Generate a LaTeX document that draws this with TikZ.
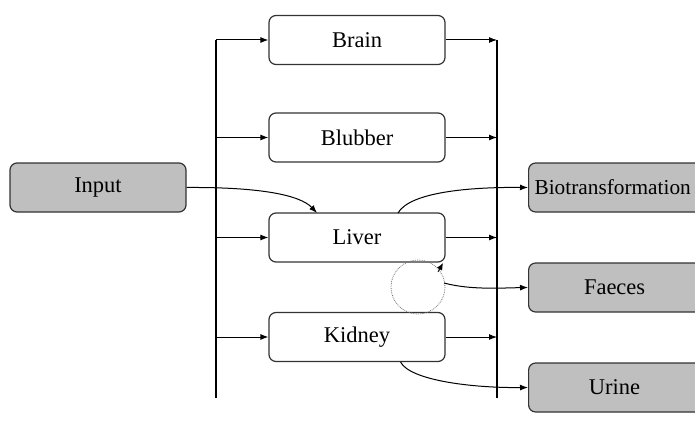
\documentclass[tikz,border=0pt]{standalone}
\usepackage{fontspec}
\setmainfont{Liberation Serif}
\usetikzlibrary{arrows.meta}
\begin{document}
\begin{tikzpicture}[x=1pt,y=-1pt,
  box/.style={draw=black!80,line width=1.2pt,rounded corners=7pt,minimum width=176pt,minimum height=49pt,inner sep=0pt,font=\fontsize{22.5}{26}\selectfont},
  sbox/.style={box,fill=black!25},
  arr/.style={-{Latex[length=8pt,width=6pt]},line width=1pt},
  bus/.style={line width=1.2pt}]
\useasboundingbox (0,0) rectangle (695,425);
\clip (0,0) rectangle (695,425);
\node[box] (brain) at (357,40) {Brain};
\node[box] (blubber) at (357,137.5) {Blubber};
\node[box] (liver) at (357,237.5) {Liver};
\node[box] (kidney) at (357,337) {Kidney};
\node[sbox] (input) at (98,187.5) {Input};
\node[sbox,minimum width=180pt,anchor=west,text width=172pt,align=left,inner sep=4pt,font=\fontsize{21.3}{26}\selectfont] (bio) at (528,187.5) {\hspace*{2pt}Biotransformation};
\node[sbox,minimum width=180pt,anchor=west] (faeces) at (528,287.5) {\hspace*{-8pt}Faeces};
\node[sbox,minimum width=180pt,anchor=west] (urine) at (528,387.5) {\hspace*{-8pt}Urine};
\coordinate (lt) at (216,40);
\coordinate (lb) at (216,398);
\coordinate (rt) at (497,40);
\coordinate (rb) at (497,398);
\draw[bus] (lb) -- (lt);
\draw[bus] (rt) -- (rb);
\draw[arr] (lt) -- (brain.west);
\draw[arr] (216,137.5) -- (blubber.west);
\draw[arr] (216,237.5) -- (liver.west);
\draw[arr] (216,337) -- (kidney.west);
\draw[arr] (brain.east) -- (rt);
\draw[arr] (blubber.east) -- (497,137.5);
\draw[arr] (liver.east) -- (497,237.5);
\draw[arr] (kidney.east) -- (497,337);
\draw[arr] (input.east) .. controls (260,187) and (300,195) .. (317,213);
\draw[arr] (398,213) .. controls (410,192) and (470,187) .. (bio.west);
\draw[arr] (kidney.south east) ++(-45,0) coordinate (ks) .. controls (410,380) and (470,388) .. (urine.west);
\draw[black!55,densely dotted,line width=0.8pt] (418,287) circle (27);
\draw[-{Latex[length=7pt,width=6pt]},line width=0.8pt] (438,272) -- (443,263);
\draw[arr] (444,283) .. controls (470,290) and (500,288) .. (faeces.west);
\end{tikzpicture}
\end{document}
